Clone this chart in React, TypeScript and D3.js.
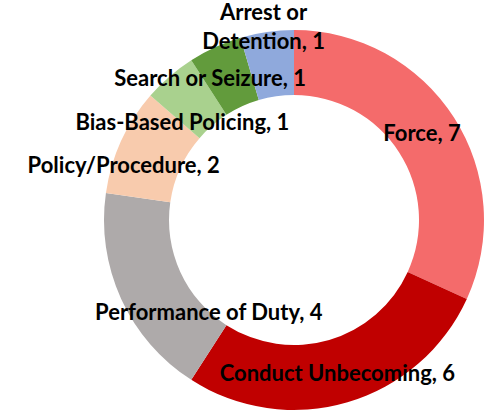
import React from "react";
import * as d3 from "d3";

const categories = [
  "Force",
  "Conduct Unbecoming",
  "Performance of Duty",
  "Policy/Procedure",
  "Bias-Based Policing",
  "Search or Seizure",
  "Arrest or Detention",
];
const values = [7, 6, 4, 2, 1, 1, 1];
const colors = ["#F46B6B", "#C00000", "#AEAAAA", "#F8CBAD", "#A9D18E", "#629B3C", "#8FA9DC"];

// label layout: line breaks and nudges from the arc centroid
const labelLines = [
  ["Force, 7"],
  ["Conduct Unbecoming, 6"],
  ["Performance of Duty, 4"],
  ["Policy/Procedure, 2"],
  ["Bias-Based Policing, 1"],
  ["Search or Seizure, 1"],
  ["Arrest or", "Detention, 1"],
];
const labelNudge: [number, number][] = [
  [-4.5, -2],
  [-1, 2],
  [58, 26.5],
  [-27, 10],
  [-8.5, 21],
  [-18.5, 1],
  [-8, -38],
];

const W = 487;
const H = 411;
const cx = 294;
const cy = 220;
const outerR = 190;
const innerR = 125;

export default function App() {
  const pie = d3
    .pie<number>()
    .sort(null)
    .value((d) => d)(values);
  const arc = d3.arc<d3.PieArcDatum<number>>().innerRadius(innerR).outerRadius(outerR);
  const labelArc = d3
    .arc<d3.PieArcDatum<number>>()
    .innerRadius((innerR + outerR) / 2)
    .outerRadius((innerR + outerR) / 2);
  const lineH = 29;

  return (
    <svg
      width={W}
      height={H}
      style={{ position: "absolute", left: 0, top: 0 }}
      fontFamily="Lato, 'Open Sans', sans-serif"
    >
      <rect width={W} height={H} fill="#fff" />
      <g transform={`translate(${cx},${cy})`}>
        {pie.map((p, i) => (
          <path key={categories[i]} d={arc(p) || ""} fill={colors[i]} />
        ))}
        {pie.map((p, i) => {
          const [x, y] = labelArc.centroid(p);
          const lines = labelLines[i];
          const [dx, dy] = labelNudge[i];
          const y0 = y + dy - ((lines.length - 1) * lineH) / 2;
          return (
            <text
              key={"l" + i}
              x={x + dx}
              textAnchor="middle"
              fontSize={22}
              fontWeight="bold"
              fill="#000"
            >
              {lines.map((ln, j) => (
                <tspan key={j} x={x + dx} y={y0 + j * lineH} dy="0.36em">
                  {ln}
                </tspan>
              ))}
            </text>
          );
        })}
      </g>
    </svg>
  );
}
